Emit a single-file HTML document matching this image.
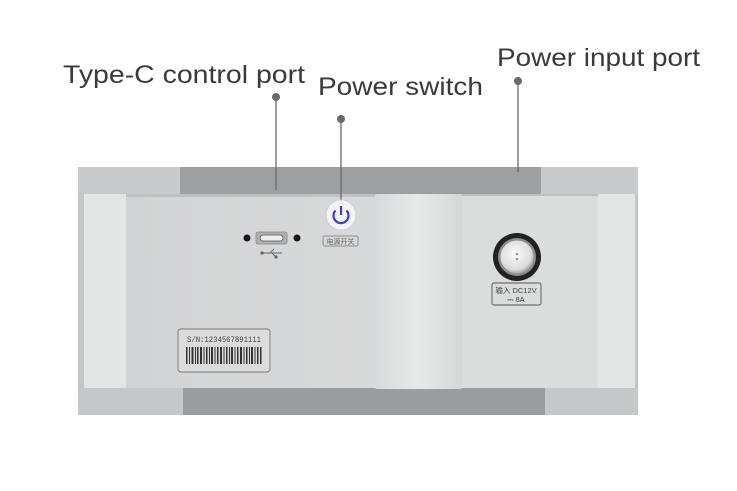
<!DOCTYPE html>
<html><head><meta charset="utf-8"><style>
html,body{margin:0;padding:0;background:#fff;width:737px;height:491px;overflow:hidden}
svg{display:block}
</style></head><body>
<svg width="737" height="491" viewBox="0 0 737 491" xmlns="http://www.w3.org/2000/svg">
<defs>
<linearGradient id="pan" x1="0" y1="0" x2="1" y2="0"><stop offset="0" stop-color="#d2d3d4"/><stop offset="1" stop-color="#dedfdf"/></linearGradient>
<linearGradient id="blk" x1="0" y1="0" x2="1" y2="0"><stop offset="0" stop-color="#d8d9da"/><stop offset="0.5" stop-color="#e8e9e9"/><stop offset="1" stop-color="#d6d7d8"/></linearGradient>
<radialGradient id="con" cx="0.45" cy="0.4" r="0.6"><stop offset="0" stop-color="#fafafa"/><stop offset="0.8" stop-color="#dcdcdc"/><stop offset="1" stop-color="#a8a8a8"/></radialGradient>
</defs>
<g font-family="Liberation Sans, sans-serif" font-size="25" fill="#3a3a3a">
<text x="63" y="83" textLength="242" lengthAdjust="spacingAndGlyphs">Type-C control port</text>
<text x="318" y="95" textLength="165" lengthAdjust="spacingAndGlyphs">Power switch</text>
<text x="497" y="66" textLength="203" lengthAdjust="spacingAndGlyphs">Power input port</text>
</g>
<rect x="78" y="167" width="560" height="248" rx="4" fill="#c4c5c6"/>
<rect x="180" y="167" width="361" height="27" fill="#9e9fa0"/>
<rect x="78" y="167" width="102" height="27" fill="#c9cacb"/>
<rect x="541" y="167" width="97" height="27" fill="#c9cacb"/>
<rect x="183" y="388" width="362" height="27" fill="#9c9d9e"/>
<rect x="78" y="388" width="105" height="27" fill="#c6c7c8"/>
<rect x="545" y="388" width="93" height="27" fill="#c6c7c8"/>
<rect x="84" y="194" width="42" height="194" fill="#e4e5e5"/>
<rect x="597" y="194" width="38" height="194" fill="#e4e5e5"/>
<rect x="126" y="194" width="472" height="194" fill="url(#pan)"/>
<rect x="126" y="194" width="472" height="3" fill="#bfc0c1"/>
<rect x="375" y="194" width="87" height="195" rx="2" fill="url(#blk)"/>
<rect x="462" y="196" width="135" height="192" fill="#dbdcdc"/>
<g stroke="#6a6a6a" stroke-width="1.3">
<line x1="276" y1="97" x2="276" y2="190"/>
<line x1="341" y1="119" x2="341" y2="201"/>
<line x1="518" y1="81" x2="518" y2="172"/>
</g>
<g fill="#6a6a6a"><circle cx="276" cy="97" r="4"/><circle cx="341" cy="119" r="4"/><circle cx="518" cy="81" r="4"/></g>
<circle cx="341" cy="215" r="15" fill="#f4f4f6" stroke="#cfcfd4" stroke-width="1"/>
<path d="M335.5 210.5 A7.5 7.5 0 1 0 346.5 210.5" fill="none" stroke="#3a3fc8" stroke-width="2.2"/>
<line x1="341" y1="206" x2="341" y2="215" stroke="#3a3fc8" stroke-width="2.2"/>
<rect x="323" y="236" width="35" height="10" rx="2" fill="none" stroke="#777" stroke-width="0.8"/>
<text x="340.5" y="244" font-family="Noto Sans CJK SC, sans-serif" font-size="7" fill="#666" text-anchor="middle">电源开关</text>
<circle cx="247" cy="238" r="3.5" fill="#111"/>
<circle cx="297" cy="238" r="3.5" fill="#111"/>
<rect x="256" y="232" width="31" height="12" rx="2" fill="#b0b0b0" stroke="#888" stroke-width="0.8"/>
<rect x="260" y="235" width="23" height="6" rx="3" fill="#eee" stroke="#555" stroke-width="0.8"/>
<g stroke="#666" stroke-width="0.9" fill="#666"><line x1="262" y1="253" x2="282" y2="253"/><line x1="270" y1="253" x2="274" y2="249"/><line x1="272" y1="253" x2="276" y2="257"/><circle cx="262" cy="253" r="1.2"/><circle cx="276" cy="257" r="1.2"/></g>
<circle cx="517" cy="257" r="24" fill="#222"/>
<circle cx="517" cy="257" r="19" fill="#8d8d8d"/>
<circle cx="517" cy="257" r="16.5" fill="url(#con)"/>
<circle cx="517" cy="254" r="1.3" fill="#999"/><circle cx="517" cy="259" r="1.3" fill="#999"/>
<rect x="492" y="283" width="49" height="22" rx="2" fill="none" stroke="#555" stroke-width="0.9"/>
<text x="516" y="293" font-family="Liberation Sans, Noto Sans CJK SC, sans-serif" font-size="7.5" fill="#444" text-anchor="middle">输入 DC12V</text>
<text x="516" y="302" font-family="Liberation Sans, sans-serif" font-size="7.5" fill="#444" text-anchor="middle">⎓ 8A</text>
<rect x="178" y="329" width="92" height="43" rx="3" fill="#dcdcdc" stroke="#777" stroke-width="0.9"/>
<text x="187" y="342" font-family="Liberation Mono, monospace" font-size="8" fill="#444" textLength="74" lengthAdjust="spacingAndGlyphs">S/N:1234567891111</text>
<g fill="#333">
<rect x="186" y="347" width="1.5" height="17"/><rect x="189" y="347" width="1" height="17"/><rect x="191.5" y="347" width="2" height="17"/><rect x="195" y="347" width="1" height="17"/><rect x="197" y="347" width="1.5" height="17"/><rect x="200" y="347" width="2" height="17"/><rect x="203.5" y="347" width="1" height="17"/><rect x="206" y="347" width="1.5" height="17"/><rect x="209" y="347" width="1" height="17"/><rect x="211" y="347" width="2" height="17"/><rect x="214.5" y="347" width="1" height="17"/><rect x="217" y="347" width="1.5" height="17"/><rect x="220" y="347" width="2" height="17"/><rect x="223.5" y="347" width="1" height="17"/><rect x="226" y="347" width="1.5" height="17"/><rect x="229" y="347" width="1" height="17"/><rect x="231" y="347" width="2" height="17"/><rect x="234.5" y="347" width="1" height="17"/><rect x="237" y="347" width="1.5" height="17"/><rect x="240" y="347" width="2" height="17"/><rect x="243.5" y="347" width="1" height="17"/><rect x="246" y="347" width="1.5" height="17"/><rect x="249" y="347" width="1" height="17"/><rect x="251" y="347" width="2" height="17"/><rect x="254.5" y="347" width="1" height="17"/><rect x="257" y="347" width="1.5" height="17"/><rect x="260" y="347" width="1.5" height="17"/>
</g>
</svg>
</body></html>
